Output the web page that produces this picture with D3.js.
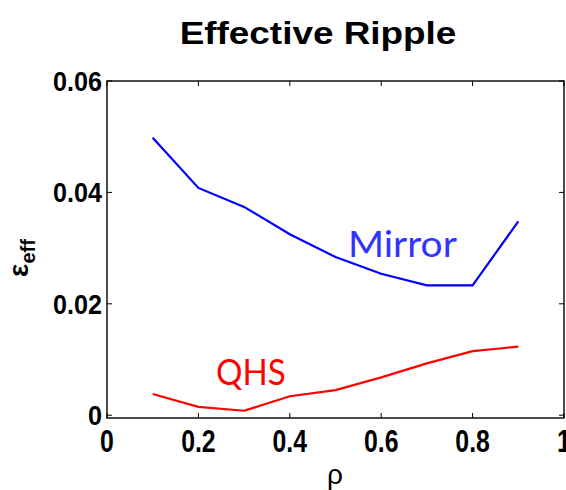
<!DOCTYPE html>
<html>
<head>
<meta charset="utf-8">
<script src="https://cdn.jsdelivr.net/npm/d3@7"></script>
<style>
  body { margin: 0; background: #fff; }
  svg { display: block; }
</style>
</head>
<body>
<svg id="chart" width="566" height="490"></svg>
<script>
// Effective ripple along the minor radius for two configurations
const rho = [0.1, 0.2, 0.3, 0.4, 0.5, 0.6, 0.7, 0.8, 0.9];
const mirror = [0.0498, 0.0408, 0.0374, 0.0325, 0.0284, 0.0254, 0.0233, 0.0233, 0.0348];
const qhs = [0.0038, 0.0015, 0.0008, 0.0034, 0.0045, 0.0068, 0.0093, 0.0115, 0.0123];
const xTicks = [0, 0.2, 0.4, 0.6, 0.8, 1];
const xTickLabels = ["0", "0.2", "0.4", "0.6", "0.8", "1"];
const yTicks = [0, 0.02, 0.04, 0.06];
const yTickLabels = ["0", "0.02", "0.04", "0.06"];

const svg = d3.select("#chart");
const L = 107, R = 564, T = 81, B = 418;

const x = d3.scaleLinear().domain([0, 1]).range([L, R]);
const y = d3.scaleLinear().domain([-0.0005, 0.06]).range([B, T]);

const tickFont = "'Liberation Sans', Arial, sans-serif";

// Box frame
svg.append("rect")
  .attr("x", L).attr("y", T).attr("width", R - L).attr("height", B - T)
  .attr("fill", "none").attr("stroke", "#000").attr("stroke-width", 1.4);

// Inward ticks on all four sides
const tk = 5;
svg.append("g").selectAll("line.xb").data(xTicks).join("line")
  .attr("x1", d => x(d)).attr("x2", d => x(d)).attr("y1", B).attr("y2", B - tk)
  .attr("stroke", "#000");
svg.append("g").selectAll("line.xt").data(xTicks).join("line")
  .attr("x1", d => x(d)).attr("x2", d => x(d)).attr("y1", T).attr("y2", T + tk)
  .attr("stroke", "#000");
svg.append("g").selectAll("line.yl").data(yTicks).join("line")
  .attr("x1", L).attr("x2", L + tk).attr("y1", d => y(d)).attr("y2", d => y(d))
  .attr("stroke", "#000");
svg.append("g").selectAll("line.yr").data(yTicks).join("line")
  .attr("x1", R).attr("x2", R - tk).attr("y1", d => y(d)).attr("y2", d => y(d))
  .attr("stroke", "#000");

// Tick labels
svg.append("g").selectAll("text").data(xTicks).join("text")
  .attr("transform", d => `translate(${x(d)},452) scale(0.8,1)`)
  .attr("text-anchor", "middle")
  .attr("font-family", tickFont).attr("font-weight", "bold").attr("font-size", 31)
  .text((d, i) => xTickLabels[i]);

svg.append("g").selectAll("text").data(yTicks).join("text")
  .attr("transform", d => `translate(102,${y(d) + 10}) scale(0.9,1)`)
  .attr("text-anchor", "end")
  .attr("font-family", tickFont).attr("font-weight", "bold").attr("font-size", 28)
  .text((d, i) => yTickLabels[i]);

// Series lines
const line = d3.line().x((d, i) => x(rho[i])).y(d => y(d));
svg.append("path").datum(mirror)
  .attr("d", line).attr("fill", "none").attr("stroke", "#0000ff").attr("stroke-width", 2.2);
svg.append("path").datum(qhs)
  .attr("d", line).attr("fill", "none").attr("stroke", "#ff0000").attr("stroke-width", 2.2);

// Series annotations
svg.append("text").attr("x", 348).attr("y", 257)
  .attr("font-family", "Lato, 'Open Sans', sans-serif").attr("font-size", 36)
  .attr("transform", "translate(348,257) scale(1.08,1) translate(-348,-257)")
  .attr("fill", "#3333ff").text("Mirror");
svg.append("text").attr("x", 216).attr("y", 385)
  .attr("font-family", "Lato, 'Open Sans', sans-serif").attr("font-size", 36)
  .attr("transform", "translate(216,385) scale(0.92,1) translate(-216,-385)")
  .attr("fill", "#ff0000").text("QHS");

// Title
svg.append("text")
  .attr("transform", "translate(318,44) scale(1.19,1)")
  .attr("text-anchor", "middle")
  .attr("font-family", tickFont).attr("font-weight", "bold").attr("font-size", 31)
  .text("Effective Ripple");

// Axis titles
svg.append("text").attr("x", 335).attr("y", 484)
  .attr("text-anchor", "middle")
  .attr("font-family", tickFont).attr("font-size", 28)
  .text("ρ");

const yl = svg.append("text")
  .attr("transform", "translate(28,258) rotate(-90)")
  .attr("text-anchor", "middle")
  .attr("font-family", tickFont).attr("font-weight", "bold").attr("font-size", 28);
yl.append("tspan").text("ε");
yl.append("tspan").attr("font-size", 20).attr("dy", 7).text("eff");
</script>
</body>
</html>
